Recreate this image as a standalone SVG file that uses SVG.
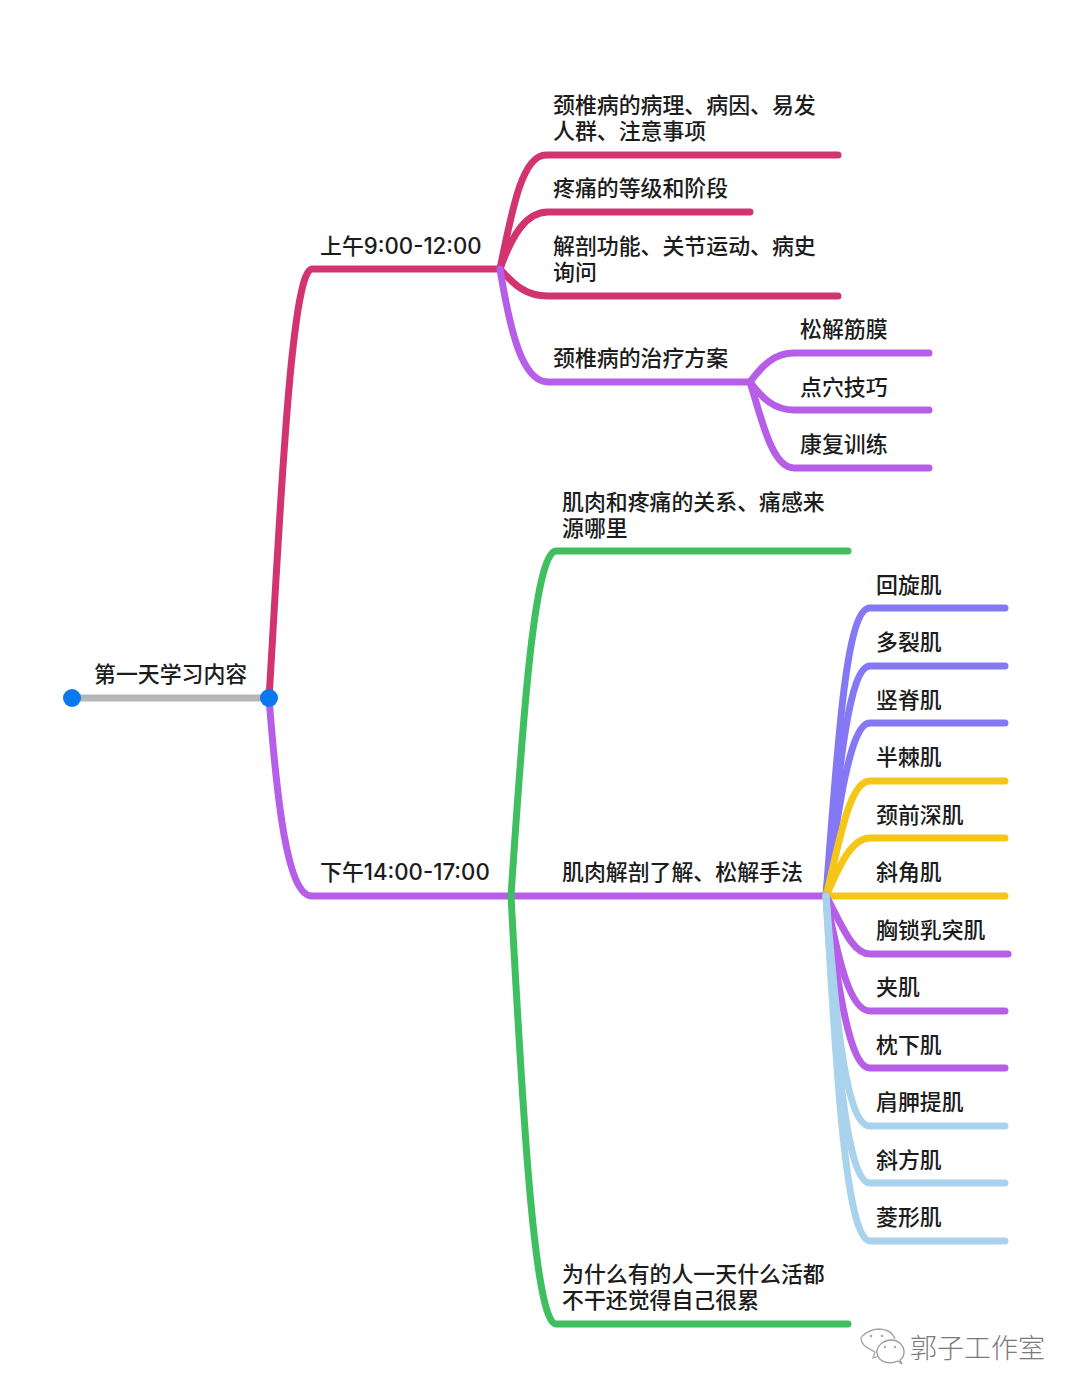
<svg xmlns="http://www.w3.org/2000/svg" width="1080" height="1396" viewBox="0 0 1080 1396">
<style>
text{font-family:"Noto Sans CJK SC","Noto Sans",sans-serif;font-size:21.9px;fill:#1c1c1c;font-weight:500}
.lat{font-family:"Inter","Noto Sans CJK SC",sans-serif;font-size:22.2px;font-weight:500}
.c{fill:none;stroke-width:7;stroke-linecap:round;stroke-linejoin:round}
.red{stroke:#d1346f}.vio{stroke:#b75ee8}.grn{stroke:#3fbf5f}.blu{stroke:#8478f5}.yel{stroke:#f5c518}.sky{stroke:#a9d3ec}
.gry{stroke:#b6b6b6}
</style>
<rect width="1080" height="1396" fill="#ffffff"/>
<g id="connectors">
<path class="c gry" d="M72 698H269"/>
<path class="c vio" d="M269 698C277 800 287 896 312 896H830"/>
<path class="c red" d="M269 698C279 540 290 269 312 269H500"/>
<path class="c red" d="M500 269C512 210 522 155 546 155H838"/>
<path class="c red" d="M500 269C512 235 526 212 548 212H750"/>
<path class="c red" d="M500 269C514 285 526 296 548 296H838"/>
<path class="c vio" d="M500 269C510 330 522 382 548 382H750"/>
<path class="c vio" d="M750 382C762 366 774 353 794 353H929"/>
<path class="c vio" d="M750 382C762 398 774 410 794 410H929"/>
<path class="c vio" d="M750 382C762 420 772 468 794 468H929"/>
<path class="c grn" d="M511 896C522 730 534 551 556 551H848"/>
<path class="c grn" d="M511 896C522 1100 534 1324 556 1324H848"/>
<path class="c blu" d="M826 896C838 740 846 608 870 608H1005"/>
<path class="c blu" d="M826 896C838 780 848 666 870 666H1005"/>
<path class="c blu" d="M826 896C838 810 850 723 870 723H1005"/>
<path class="c yel" d="M826 896C838 850 848 781 870 781H1005"/>
<path class="c yel" d="M826 896C838 870 850 838 870 838H1005"/>
<path class="c yel" d="M826 896H1005"/>
<path class="c vio" d="M826 896C842 925 852 954 870 954H1008"/>
<path class="c vio" d="M826 896C838 960 850 1011 870 1011H1005"/>
<path class="c vio" d="M826 896C838 990 850 1068 870 1068H1005"/>
<path class="c sky" d="M826 896C836 1020 846 1126 870 1126H1005"/>
<path class="c sky" d="M826 896C836 1050 846 1183 870 1183H1005"/>
<path class="c sky" d="M826 896C836 1070 846 1241 870 1241H1005"/>
<circle cx="72" cy="698" r="9" fill="#0a78ee"/>
<circle cx="269" cy="698" r="9" fill="#0a78ee"/>
</g>
<g id="root"><text x="94" y="682">第一天学习内容</text></g>
<g id="am"><text x="320" y="254">上午<tspan class="lat">9:00-12:00</tspan></text></g>
<g id="pm"><text x="320" y="880">下午<tspan class="lat">14:00-17:00</tspan></text></g>
<g id="am1"><text x="553" y="113">颈椎病的病理、病因、易发</text><text x="553" y="139">人群、注意事项</text></g>
<g id="am2"><text x="553" y="196">疼痛的等级和阶段</text></g>
<g id="am3"><text x="553" y="254">解剖功能、关节运动、病史</text><text x="553" y="280">询问</text></g>
<g id="am4"><text x="553" y="366">颈椎病的治疗方案</text></g>
<g id="am4a"><text x="800" y="337">松解筋膜</text></g>
<g id="am4b"><text x="800" y="395">点穴技巧</text></g>
<g id="am4c"><text x="800" y="452">康复训练</text></g>
<g id="pm1"><text x="562" y="510">肌肉和疼痛的关系、痛感来</text><text x="562" y="536">源哪里</text></g>
<g id="pm2"><text x="562" y="880">肌肉解剖了解、松解手法</text></g>
<g id="pm3"><text x="562" y="1282">为什么有的人一天什么活都</text><text x="562" y="1308">不干还觉得自己很累</text></g>
<g id="m1"><text x="876" y="593">回旋肌</text></g>
<g id="m2"><text x="876" y="650">多裂肌</text></g>
<g id="m3"><text x="876" y="708">竖脊肌</text></g>
<g id="m4"><text x="876" y="765">半棘肌</text></g>
<g id="m5"><text x="876" y="823">颈前深肌</text></g>
<g id="m6"><text x="876" y="880">斜角肌</text></g>
<g id="m7"><text x="876" y="938">胸锁乳突肌</text></g>
<g id="m8"><text x="876" y="995">夹肌</text></g>
<g id="m9"><text x="876" y="1053">枕下肌</text></g>
<g id="m10"><text x="876" y="1110">肩胛提肌</text></g>
<g id="m11"><text x="876" y="1168">斜方肌</text></g>
<g id="m12"><text x="876" y="1225">菱形肌</text></g>
<g id="watermark">
<path d="M879 1356L873 1358L875 1352C867 1347 861 1346 861 1337C861 1338 866 1330 878 1329C888 1329 893 1333 895 1339" fill="#fff" stroke="#a8a8a8" stroke-width="1.3"/>
<path d="M898 1361C889 1365 878 1362 877 1353C876 1346 884 1340 891 1340C899 1340 904 1346 904 1352C904 1355 903 1358 900 1360L902 1364Z" fill="#fff" stroke="#9a9a9a" stroke-width="1.3"/>
<circle cx="871" cy="1336" r="1.3" fill="#aaa"/><circle cx="882" cy="1336" r="1.3" fill="#aaa"/>
<circle cx="885" cy="1347" r="1.2" fill="#aaa"/><circle cx="895" cy="1347" r="1.2" fill="#aaa"/>
<text x="910" y="1358" style="font-size:27px;fill:#7a7a7a;font-weight:300">郭子工作室</text>
</g>
</svg>
